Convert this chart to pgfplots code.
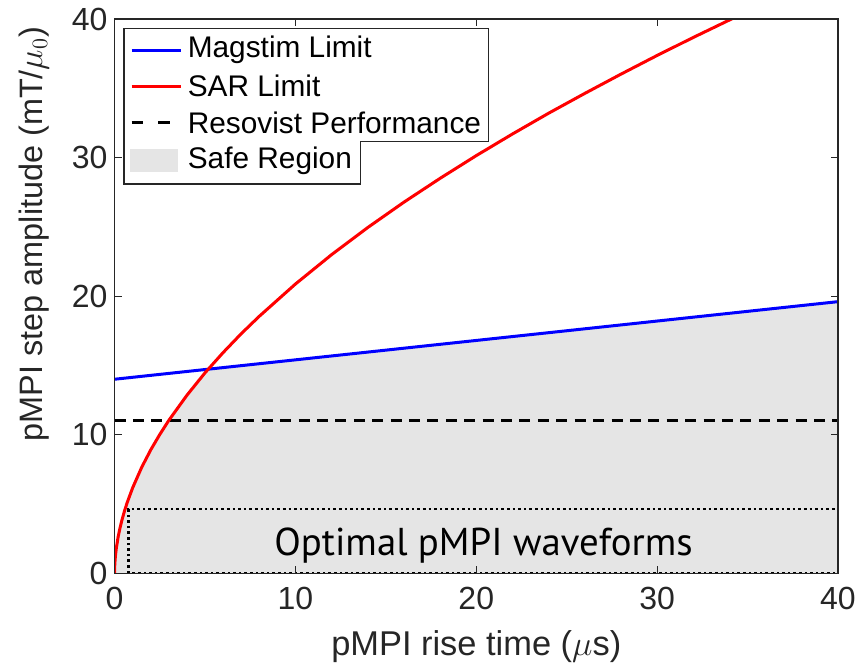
\documentclass[border=0pt]{standalone}
\usepackage{fontspec}
\setmainfont{Liberation Sans}
\newfontfamily\ptsans{PT Sans}
\usepackage{pgfplots}
\pgfplotsset{compat=1.18}
\definecolor{axgray}{RGB}{38,38,38}
\definecolor{safegray}{RGB}{229,229,229}

\begin{document}
\begin{tikzpicture}
\begin{axis}[
    scale only axis, width=361.6pt, height=277pt,
    xmin=0, xmax=40, ymin=0, ymax=40,
    xtick={0,10,20,30,40}, ytick={0,10,20,30,40},
    axis on top,
    axis line style={axgray, line width=0.6pt},
    major tick length=3.5pt,
    every tick/.style={axgray, line width=0.6pt},
    tick label style={font=\fontsize{16}{19}\selectfont, text=axgray},
    /pgf/number format/assume math mode=true,
    xticklabel style={yshift=-3.2pt},
    label style={text=axgray},
    xlabel={pMPI rise time ($\mu$s)},
    ylabel={pMPI step amplitude (mT/$\mu_0$)},
    xlabel style={font=\fontsize{17.2}{20}\selectfont, at={(rel axis cs:0.5,0)}, anchor=base, yshift=-41pt},
    ylabel style={font=\fontsize{16.2}{19}\selectfont, at={(rel axis cs:0,0.612)}, anchor=base, yshift=36.25pt},
]
\coordinate (O) at (rel axis cs:0,0);
\coordinate (T) at (rel axis cs:1,1);

% safe region: below both limits
\addplot[fill=safegray, draw=none] coordinates {
    (0,0) (0.01,0.54) (0.02,0.77) (0.05,1.26) (0.1,1.82) (0.2,2.63) (0.3,3.25)
    (0.4,3.79) (0.55,4.49) (0.7,5.10) (1,6.16) (1.5,7.64) (2,8.90) (2.5,10.01)
    (3,11.03) (4,12.84) (5,14.46) (5.18,14.73) (40,19.6) (40,0)} \closedcycle;

% optimal waveform box
\addplot[black, line width=1.3pt, dash pattern=on 1.3pt off 1.5pt] coordinates {
    (0.77,0) (0.77,4.62) (40,4.62) (40,0) (0.77,0)};

% Resovist performance
\addplot[black, line width=1.5pt, dash pattern=on 5.5pt off 3.7pt] coordinates {(0,11) (40,11)};

% Magstim limit
\addplot[blue, line width=1.5pt] coordinates {(0,14) (40,19.6)};

% SAR limit
\addplot[red, line width=1.5pt] coordinates {
    (0,0) (0.01,0.54) (0.02,0.77) (0.05,1.26) (0.1,1.82) (0.2,2.63) (0.3,3.25)
    (0.4,3.79) (0.55,4.49) (0.7,5.10) (1,6.16) (1.5,7.64) (2,8.90) (2.5,10.01)
    (3,11.03) (4,12.84) (5,14.46) (6,15.92) (7,17.28) (8,18.54) (10,20.87)
    (12,22.99) (14,24.95) (16,26.78) (18,28.50) (20,30.14) (22,31.70) (24,33.20)
    (26,34.63) (28,36.02) (30,37.37) (32,38.67) (34,39.93) (34.2,40.05)};

\node[anchor=base, font=\ptsans\fontsize{19.4}{23}\selectfont, inner sep=0pt]
    at (axis cs:20.4,1.3) {Optimal pMPI waveforms};

% legend
\draw[axgray, line width=0.6pt, fill=white]
    (axis cs:0.525,39.33) -- (axis cs:20.66,39.33) -- (axis cs:20.66,31.14)
    -- (axis cs:13.58,31.14) -- (axis cs:13.58,28.09) -- (axis cs:0.525,28.09) -- cycle;
\draw[blue, line width=1.5pt] (axis cs:0.95,37.76) -- (axis cs:3.66,37.76);
\draw[red, line width=1.5pt] (axis cs:0.95,35.16) -- (axis cs:3.66,35.16);
\draw[black, line width=1.5pt, dash pattern=on 5.8pt off 7.5pt] (axis cs:0.95,32.51) -- (axis cs:3.66,32.51);
\fill[safegray] (axis cs:0.86,28.95) rectangle (axis cs:3.52,30.61);
\begin{scope}[every node/.style={anchor=west, inner sep=0pt, font=\fontsize{14.9}{17}\selectfont}]
\node at (axis cs:4.03,37.76) {Magstim Limit};
\node at (axis cs:4.03,35.16) {SAR Limit};
\node at (axis cs:4.03,32.51) {Resovist Performance};
\node at (axis cs:4.03,29.77) {Safe Region};
\end{scope}
\end{axis}
\pgfresetboundingbox
\path[use as bounding box] ([shift={(-57.25pt,-48pt)}]O) rectangle ([shift={(10.5pt,9.5pt)}]T);
\end{tikzpicture}
\end{document}
